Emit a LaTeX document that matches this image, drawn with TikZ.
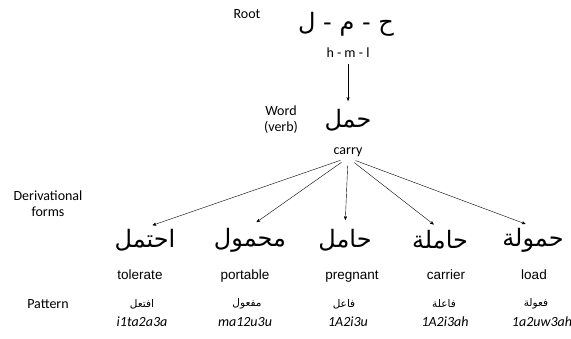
\documentclass[tikz,border=0pt]{standalone}
\usepackage{fontspec}
\setmainfont{Carlito}
\newfontfamily\arabicfont[Script=Arabic]{DejaVu Sans}
\newfontfamily\engfont{Liberation Sans}
\TeXXeTstate=1
\usetikzlibrary{arrows}

\begin{document}
\begin{tikzpicture}[x=1pt,y=-1pt,->,>=stealth',thin,
                    lbl/.style={font=\fontsize{14}{16}\selectfont,inner sep=1pt},
                    arbig/.style={font=\arabicfont\fontsize{24}{26}\selectfont,inner sep=1pt},
                    arsmall/.style={font=\arabicfont\fontsize{10.5}{12}\selectfont,inner sep=1pt},
                    eng/.style={font=\engfont\fontsize{13.5}{15}\selectfont,inner sep=1pt,anchor=base},
                    translit/.style={font=\itshape\fontsize{14}{16}\selectfont,inner sep=1pt}]
  \useasboundingbox (0,0) rectangle (571,338);

  % root and word
  \node[lbl] (rootlbl) at (247,14) {Root};
  \node[arbig] (root) at (346,24) {\beginR ح - م - ل\endR};
  \node[lbl] (roottr) at (348,53) {h - m - l};
  \node[lbl,align=center] (wordlbl) at (281,120) {Word\\(verb)};
  \node[arbig] (word) at (348,120) {\beginR حمل\endR};
  \node[lbl] (wordtr) at (348,152) {carry};

  % derivational forms
  \node[lbl,align=center] (formlbl) at (48,204) {Derivational\\forms};
  \node[arbig] (fa) at (145,240) {\beginR احتمل\endR};
  \node[arbig] (fb) at (250,240) {\beginR محمول\endR};
  \node[arbig] (fc) at (345,240) {\beginR حامل\endR};
  \node[arbig] (fd) at (440,240) {\beginR حاملة\endR};
  \node[arbig] (fe) at (533,240) {\beginR حمولة\endR};
  \node[eng] (ea) at (140,279) {tolerate};
  \node[eng] (eb) at (245,279) {portable};
  \node[eng] (ec) at (352,279) {pregnant};
  \node[eng] (ed) at (446,279) {carrier};
  \node[eng] (ee) at (534,279) {load};

  % patterns
  \node[lbl] (patlbl) at (48,304) {Pattern};
  \node[arsmall] (pa) at (142,304) {\beginR افتعل\endR};
  \node[arsmall] (pb) at (247,304) {\beginR مفعول\endR};
  \node[arsmall] (pc) at (344,304) {\beginR فاعل\endR};
  \node[arsmall] (pd) at (444,304) {\beginR فاعلة\endR};
  \node[arsmall] (pe) at (536,304) {\beginR فعولة\endR};
  \node[translit] (ta) at (142,322) {i1ta2a3a};
  \node[translit] (tb) at (245,322) {ma12u3u};
  \node[translit] (tc) at (348,322) {1A2i3u};
  \node[translit] (td) at (445,322) {1A2i3ah};
  \node[translit] (te) at (542,322) {1a2uw3ah};

  \path (roottr.south) edge [shorten <=5pt,shorten >=7pt] (word.north)
        (wordtr.south) edge [shorten <=8pt,shorten >=8pt] (fa.north)
                       edge [shorten <=8pt,shorten >=8pt] (fb.north)
                       edge [shorten <=8pt,shorten >=8pt] (fc.north)
                       edge [shorten <=8pt,shorten >=8pt] (fd.north)
                       edge [shorten <=8pt,shorten >=8pt] (fe.north);
\end{tikzpicture}
\end{document}
